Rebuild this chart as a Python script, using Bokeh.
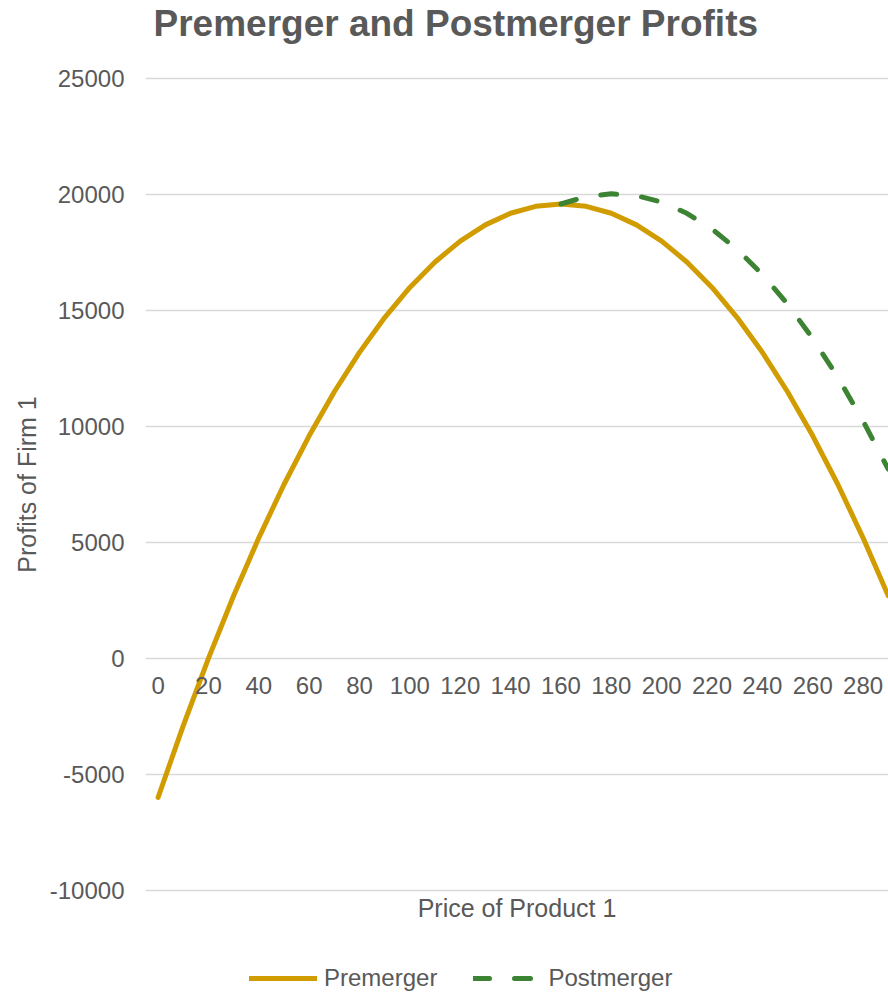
from bokeh.plotting import figure
from bokeh.layouts import column
from bokeh.models import Range1d, FixedTicker, LinearAxis, Legend, LegendItem, Title
from bokeh.embed import file_html
from bokeh.resources import INLINE

# ---- data ----
prices = [0, 10, 20, 30, 40, 50, 60, 70, 80, 90, 100, 110, 120, 130, 140,
          150, 160, 170, 180, 190, 200, 210, 220, 230, 240, 250, 260, 270, 280, 290]
premerger = [-6000, -2900, 0, 2700, 5200, 7500, 9600, 11500, 13200, 14700,
             16000, 17100, 18000, 18700, 19200, 19500, 19600, 19500, 19200, 18700,
             18000, 17100, 16000, 14700, 13200, 11500, 9600, 7500, 5200, 2700]
post_prices = [160, 170, 180, 190, 200, 210, 220, 230, 240, 250, 260, 270, 280, 290]
postmerger = [19600, 19920, 20040, 19960, 19680, 19200, 18520, 17640, 16560,
              15280, 13800, 12120, 10240, 8160]
x_ticks = [0, 20, 40, 60, 80, 100, 120, 140, 160, 180, 200, 220, 240, 260, 280]
x_tick_labels = ["0", "20", "40", "60", "80", "100", "120", "140", "160",
                 "180", "200", "220", "240", "260", "280"]
y_ticks = [-10000, -5000, 0, 5000, 10000, 15000, 20000, 25000]
y_tick_labels = ["-10000", "-5000", "0", "5000", "10000", "15000", "20000", "25000"]
series_names = ["Premerger", "Postmerger"]

TXT = "#595959"
FONT = "Liberation Sans"
GOLD = "#D19C00"
GREEN = "#3C8434"

# ---- title strip ----
tf = figure(width=888, height=50, output_backend="svg", toolbar_location=None,
            min_border=0, x_axis_location=None, y_axis_location=None,
            x_range=Range1d(0, 1), y_range=Range1d(0, 1))
tf.outline_line_color = None
tf.xgrid.visible = False
tf.ygrid.visible = False
tf.add_layout(Title(text="Premerger and Postmerger Profits", align="left", offset=8,
                    standoff=4, vertical_align="top", text_font_size="37px",
                    text_font=FONT, text_font_style="bold", text_color=TXT), "above")

# ---- main chart ----
p = figure(width=888, height=890, x_range=Range1d(-5, 290.1),
           y_range=Range1d(-10100, 25100), output_backend="svg",
           toolbar_location=None, min_border_left=145, min_border_right=0,
           min_border_top=26, min_border_bottom=48)
p.outline_line_color = None
p.background_fill_color = "white"
p.border_fill_color = "white"

p.xgrid.visible = False
p.ygrid.ticker = FixedTicker(ticks=y_ticks)
p.ygrid.grid_line_color = "#D9D9D9"
p.ygrid.grid_line_width = 1.5

ya = p.yaxis[0]
ya.ticker = FixedTicker(ticks=y_ticks)
ya.major_label_overrides = {t: s for t, s in zip(y_ticks, y_tick_labels)}
ya.axis_line_color = None
ya.major_tick_line_color = None
ya.minor_tick_line_color = None
ya.major_label_standoff = 15
ya.major_label_text_font_size = "24px"
ya.major_label_text_font = FONT
ya.major_label_text_color = TXT
ya.axis_label = "Profits of Firm 1"
ya.axis_label_text_font_size = "25px"
ya.axis_label_text_font = FONT
ya.axis_label_text_font_style = "normal"
ya.axis_label_text_color = TXT
ya.axis_label_standoff = 6

xa = p.xaxis[0]
xa.fixed_location = 0
xa.ticker = FixedTicker(ticks=x_ticks)
xa.major_label_overrides = {t: s for t, s in zip(x_ticks, x_tick_labels)}
xa.axis_line_color = None
xa.major_tick_line_color = None
xa.minor_tick_line_color = None
xa.major_label_standoff = 13
xa.major_label_text_font_size = "24px"
xa.major_label_text_font = FONT
xa.major_label_text_color = TXT

xt = LinearAxis(ticker=FixedTicker(ticks=[]), axis_label="Price of Product 1")
xt.axis_line_color = None
xt.major_tick_line_color = None
xt.minor_tick_line_color = None
xt.major_label_text_font_size = "0px"
xt.axis_label_text_font_size = "25px"
xt.axis_label_text_font = FONT
xt.axis_label_text_font_style = "normal"
xt.axis_label_text_color = TXT
xt.axis_label_standoff = 1
p.add_layout(xt, "below")

line_styles = [dict(line_color=GOLD, line_width=5, line_join="round", line_cap="round"),
               dict(line_color=GREEN, line_width=5, line_dash="16 25",
                    line_join="round", line_cap="round")]
p.line(prices, premerger, **line_styles[0])
p.line(post_prices, postmerger, **line_styles[1])

# ---- legend strip (same series, out of this strip's view; used for legend keys) ----
lg = figure(width=888, height=54, x_range=Range1d(0, 1), y_range=Range1d(0, 1),
            output_backend="svg", toolbar_location=None, min_border=0,
            x_axis_location=None, y_axis_location=None)
lg.outline_line_color = None
lg.xgrid.visible = False
lg.ygrid.visible = False
keys = [lg.line(prices, premerger, **line_styles[0]),
        lg.line(post_prices, postmerger, **line_styles[1])]
legend = Legend(items=[LegendItem(label=n, renderers=[r]) for n, r in zip(series_names, keys)],
                location=(104, 2), orientation="horizontal",
                glyph_width=68, glyph_height=24, label_height=24,
                label_standoff=7, spacing=36, padding=0, margin=0,
                label_text_font_size="24px", label_text_font=FONT,
                label_text_color=TXT, border_line_color=None,
                background_fill_alpha=0)
lg.add_layout(legend, "center")

layout = column(tf, p, lg, spacing=0)
open("out.html", "w").write(file_html(layout, INLINE))
